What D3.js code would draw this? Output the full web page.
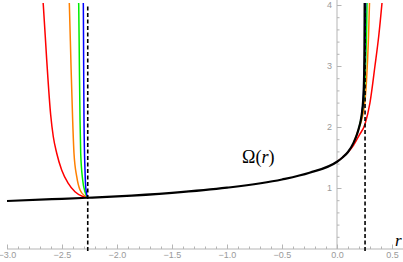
<!DOCTYPE html>
<html>
<head>
<meta charset="utf-8">
<script src="https://cdn.jsdelivr.net/npm/d3@7"></script>
<style>
  html, body { margin: 0; padding: 0; background: #fff; }
  svg { display: block; }
</style>
</head>
<body>
<svg id="chart" width="403" height="262"></svg>
<script>
// ---- data ----
const xTicks = [-3.0, -2.5, -2.0, -1.5, -1.0, -0.5, 0.0, 0.5];
const yTicks = [1, 2, 3, 4];
const dashedR = [-2.266, 0.255];

const blackR     = [-3, -2.5, -2.27, -2, -1.5, -1, -0.5, -0.25, 0, 0.05, 0.1, 0.15, 0.18, 0.2, 0.215, 0.228, 0.237, 0.243, 0.247, 0.2495, 0.251, 0.2515];
const blackOmega = [0.787, 0.823, 0.84, 0.862, 0.92, 1.005, 1.14, 1.25, 1.43, 1.5, 1.59, 1.74, 1.87, 1.99, 2.1, 2.25, 2.42, 2.62, 2.9, 3.3, 3.8, 4.05];

const redLeftR     = [-2.672, -2.67, -2.639, -2.603, -2.579, -2.548, -2.503, -2.443, -2.382, -2.306, -2.266];
const redLeftOmega = [4.05, 4.0, 3.1, 2.2, 1.84, 1.57, 1.295, 1.077, 0.939, 0.857, 0.84];
const orangeLeftR     = [-2.434, -2.433, -2.418, -2.403, -2.391, -2.366, -2.336, -2.291, -2.266];
const orangeLeftOmega = [4.05, 4.0, 3.0, 2.11, 1.57, 1.185, 0.967, 0.869, 0.84];
const greenLeftR     = [-2.349, -2.348, -2.342, -2.336, -2.33, -2.312, -2.291, -2.266];
const greenLeftOmega = [4.05, 4.0, 3.0, 2.11, 1.57, 1.131, 0.939, 0.84];
const blueLeftR     = [-2.307, -2.306, -2.303, -2.3, -2.291, -2.282, -2.266];
const blueLeftOmega = [4.05, 4.0, 3.0, 2.11, 1.295, 0.967, 0.84];

const redRightR     = [0, 0.05, 0.1, 0.15, 0.2, 0.255, 0.3, 0.345, 0.38, 0.41];
const redRightOmega = [1.43, 1.5, 1.585, 1.7, 1.86, 2.05, 2.4, 3.0, 3.5, 4.05];
const orangeRightR     = [0.15, 0.2, 0.225, 0.245, 0.258, 0.268, 0.278, 0.287, 0.295, 0.296];
const orangeRightOmega = [1.74, 1.98, 2.12, 2.3, 2.5, 2.75, 3.1, 3.5, 4.0, 4.05];
const greenRightR     = [0.2, 0.215, 0.232, 0.245, 0.255, 0.263, 0.269, 0.272, 0.273];
const greenRightOmega = [1.99, 2.1, 2.28, 2.5, 2.8, 3.2, 3.6, 3.95, 4.05];
const blueRightR     = [0.228, 0.238, 0.246, 0.252, 0.256, 0.259, 0.26];
const blueRightOmega = [2.25, 2.43, 2.75, 3.1, 3.5, 3.9, 4.05];

// ---- drawing ----
const svg = d3.select("#chart");
const W = 403, H = 262;
const x = d3.scaleLinear().domain([-3, 0.5]).range([7, 392]);
const y = d3.scaleLinear().domain([0, 4]).range([249, 5]);

const axisColor = "#b5b5b5";
const labelColor = "#9a9a9a";

svg.append("defs").append("clipPath").attr("id", "clip")
  .append("rect").attr("x", 0).attr("y", 3).attr("width", W).attr("height", 250);

// axes
const gx = svg.append("g").attr("transform", `translate(0,${y(0)})`);
gx.append("line").attr("x1", x(-3)).attr("x2", W).attr("y1", 0).attr("y2", 0)
  .attr("stroke", axisColor).attr("stroke-width", 1);
const xMinor = d3.range(-30, 6).map(d => d / 10);
gx.append("g").call(d3.axisBottom(x).tickValues(xMinor).tickSizeInner(-2.5).tickSizeOuter(0).tickFormat(""))
  .call(g => g.select(".domain").remove())
  .call(g => g.selectAll("line").attr("stroke", axisColor));
gx.append("g").call(d3.axisBottom(x).tickValues(xTicks).tickSizeInner(-4.5).tickSizeOuter(0).tickPadding(3)
    .tickFormat(d3.format(".1f")))
  .call(g => g.select(".domain").remove())
  .call(g => g.selectAll("line").attr("stroke", axisColor))
  .call(g => g.selectAll("text").attr("fill", labelColor).attr("font-size", 9)
    .attr("font-family", "Liberation Sans, Arial, sans-serif"));

const gy = svg.append("g").attr("transform", `translate(${x(0)},0)`);
gy.append("line").attr("x1", 0).attr("x2", 0).attr("y1", y(0)).attr("y2", 0)
  .attr("stroke", axisColor).attr("stroke-width", 1);
const yMinor = d3.range(1, 21).map(d => d / 5);
gy.append("g").call(d3.axisLeft(y).tickValues(yMinor).tickSizeInner(-2.5).tickSizeOuter(0).tickFormat(""))
  .call(g => g.select(".domain").remove())
  .call(g => g.selectAll("line").attr("stroke", axisColor));
gy.append("g").call(d3.axisLeft(y).tickValues(yTicks).tickSizeInner(-4.5).tickSizeOuter(0).tickPadding(5)
    .tickFormat(d3.format("d")))
  .call(g => g.select(".domain").remove())
  .call(g => g.selectAll("line").attr("stroke", axisColor))
  .call(g => g.selectAll("text").attr("fill", labelColor).attr("font-size", 9)
    .attr("font-family", "Liberation Sans, Arial, sans-serif"));

// curves
const line = d3.line().x(d => x(d[0])).y(d => y(d[1])).curve(d3.curveMonotoneX);
const zip = (a, b) => a.map((v, i) => [v, b[i]]);
const plot = svg.append("g").attr("clip-path", "url(#clip)");

const colored = [
  { rs: redLeftR, os: redLeftOmega, c: "#ff0000" },
  { rs: redRightR, os: redRightOmega, c: "#ff0000" },
  { rs: orangeLeftR, os: orangeLeftOmega, c: "#ff8000" },
  { rs: orangeRightR, os: orangeRightOmega, c: "#ff8000" },
  { rs: greenLeftR, os: greenLeftOmega, c: "#00ee00" },
  { rs: greenRightR, os: greenRightOmega, c: "#00ee00" },
  { rs: blueLeftR, os: blueLeftOmega, c: "#0000ff" },
  { rs: blueRightR, os: blueRightOmega, c: "#0000ff" }
];
colored.forEach(s => {
  plot.append("path").attr("d", line(zip(s.rs, s.os)))
    .attr("fill", "none").attr("stroke", s.c).attr("stroke-width", 1.5);
});
plot.append("path").attr("d", line(zip(blackR, blackOmega)))
  .attr("fill", "none").attr("stroke", "#000").attr("stroke-width", 2.2);

// dashed verticals
svg.selectAll("line.dash").data(dashedR).enter().append("line")
  .attr("class", "dash")
  .attr("x1", d => x(d)).attr("x2", d => x(d))
  .attr("y1", y(0) + 2).attr("y2", y(4))
  .attr("stroke", "#000").attr("stroke-width", 1.6).attr("stroke-dasharray", "4,2.5");

// labels
const omegaLabel = svg.append("text").attr("x", 242).attr("y", 163)
  .attr("font-family", "Liberation Serif, Times New Roman, serif").attr("font-size", 18).attr("fill", "#000");
omegaLabel.append("tspan").text("Ω(");
omegaLabel.append("tspan").attr("font-style", "italic").text("r");
omegaLabel.append("tspan").text(")");

svg.append("text").attr("x", 395).attr("y", 246)
  .attr("font-family", "Liberation Serif, Times New Roman, serif").attr("font-size", 17)
  .attr("font-style", "italic").attr("fill", "#000").text("r");
</script>
</body>
</html>
